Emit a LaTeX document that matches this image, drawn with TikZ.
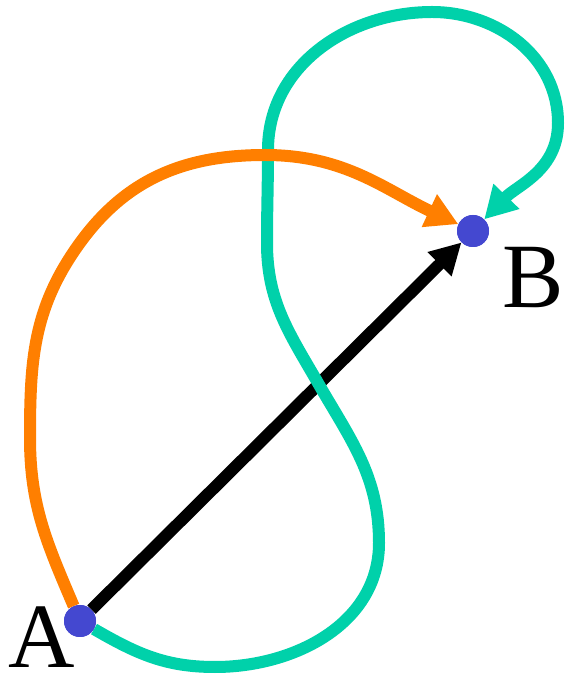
\documentclass[tikz,border=0pt]{standalone}
\usepackage{fontspec}
\setmainfont{Liberation Serif}
\usepackage{xcolor}
\usetikzlibrary{arrows.meta}

\definecolor{pathorange}{RGB}{255,127,0}
\definecolor{pathteal}{RGB}{0,209,170}
\definecolor{dotblue}{RGB}{68,72,208}

\begin{document}
\begin{tikzpicture}[x=1pt, y=1pt,
        dot/.style={circle, fill=dotblue, minimum size=32pt, inner sep=0pt},
        ptlabel/.style={inner sep=0pt, font=\fontsize{92}{92}\selectfont},
        pathline/.style={line width=12pt, -{Triangle[length=32pt, width=34pt]}}]
    \useasboundingbox (0,0) rectangle (567,683);

    \node[dot] (A) at (80, 62) {};
    \node[dot] (B) at (473, 452) {};
    \node[ptlabel] (labA) at (42, 46) {A};
    \node[ptlabel] (labB) at (533, 405) {B};

    % straight path
    \draw[pathline, black, -{Triangle[length=31pt, width=32pt]}] (A) -- (B);

    % looping path
    \draw[pathline, pathteal] (A) to[out=-30, in=180] (215, 16)
        to[out=0, in=-90] (379, 140)
        to[out=90, in=-60] (318, 300)
        to[out=120, in=-90] (267, 440)
        to[out=90, in=-90] (268, 533)
        to[out=90, in=180] (432, 671)
        to[out=0, in=90] (558, 560)
        to[out=-90, in=46] (B);

    % detour path
    \draw[pathline, pathorange] (A) to[out=113, in=-90] (30, 245)
        to[out=90, in=-125] (77, 436)
        to[out=55, in=180] (265, 528)
        to[out=0, in=155] (B);

    \node[dot] at (A) {};
    \node[dot] at (B) {};
\end{tikzpicture}
\end{document}
